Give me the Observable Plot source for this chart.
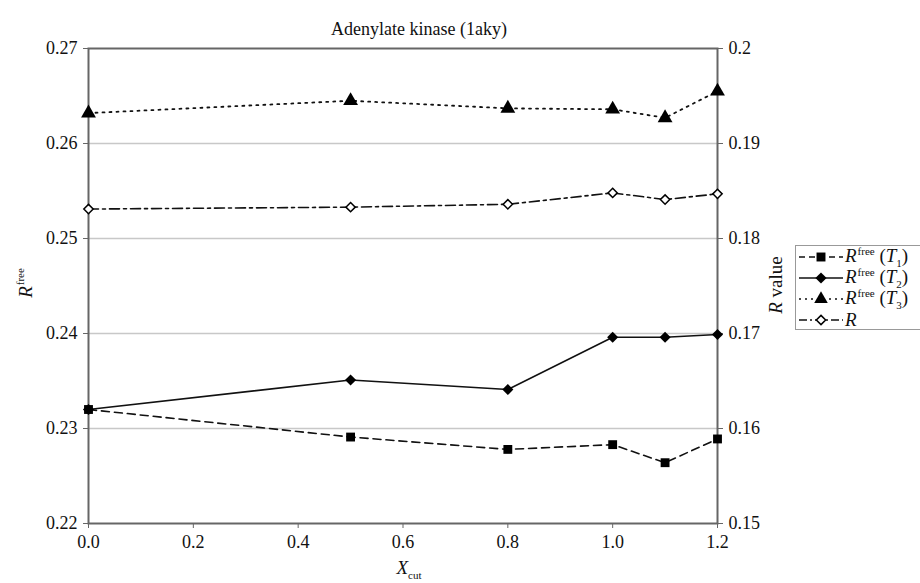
<!DOCTYPE html>
<html><head><meta charset="utf-8">
<script src="https://cdn.jsdelivr.net/npm/d3@7"></script>
<script src="https://cdn.jsdelivr.net/npm/@observablehq/plot@0.6"></script>
<style>
body{margin:0;background:#fff;}
#wrap{position:relative;width:920px;height:583px;font-family:'Liberation Serif','Times New Roman',serif;color:#111;}
#legend{position:absolute;left:795px;top:245px;width:128px;height:85px;border:1px solid #999;box-sizing:border-box;background:#fff;}
.row{height:21px;display:flex;align-items:center;font-size:19px;white-space:nowrap;line-height:21px;}
.row svg{flex:none;margin-left:1px;}
.row i{font-style:italic;}
.sup{font-size:11px;position:relative;top:-7px;margin-left:1px;}
.sub{font-size:11px;position:relative;top:5px;}
</style></head>
<body><div id="wrap"><div id="chart"></div><div id="legend"></div></div>
<script>
const title = "Adenylate kinase (1aky)";
const xcut = [0, 0.5, 0.8, 1.0, 1.1, 1.2];
const rfreeT1 = [0.2320, 0.2291, 0.2278, 0.2283, 0.2264, 0.2289];
const rfreeT2 = [0.2320, 0.2351, 0.2341, 0.2396, 0.2396, 0.2399];
const rfreeT3 = [0.2632, 0.2645, 0.2637, 0.2636, 0.2627, 0.2655];
const rValue = [0.1831, 0.1833, 0.1836, 0.1848, 0.1841, 0.1847];
const leftTicks = [0.22, 0.23, 0.24, 0.25, 0.26, 0.27];
const rightTicks = [0.15, 0.16, 0.17, 0.18, 0.19, 0.2];
const xTicks = [0, 0.2, 0.4, 0.6, 0.8, 1.0, 1.2];
const gridTicks = [0.23, 0.24, 0.25, 0.26];

// right axis (R value, 0.15–0.2) is mapped linearly onto the left axis (0.22–0.27)
const OFFSET = leftTicks[0] - rightTicks[0];

const mk = (ys, shift = 0) => xcut.map((x, i) => ({x, y: ys[i] + shift}));
const t1 = mk(rfreeT1), t2 = mk(rfreeT2), t3 = mk(rfreeT3), rv = mk(rValue, OFFSET);

const ink = "#111";
const font = "'Liberation Serif','Times New Roman',serif";
const svg = Plot.plot({
  width: 920, height: 583,
  marginLeft: 88, marginRight: 203, marginTop: 48, marginBottom: 60,
  style: {fontFamily: font, fontSize: "18px", color: ink, background: "#fff"},
  x: {domain: [0, 1.2]},
  y: {domain: [0.22, 0.27]},
  marks: [
    Plot.ruleY(gridTicks, {stroke: "#c8c8c8", strokeWidth: 1.5}),
    Plot.frame({stroke: "#666", strokeWidth: 2}),
    Plot.axisY({ticks: leftTicks, tickFormat: d => d.toFixed(2), tickSize: 5, tickPadding: 6, label: null, stroke: "#666"}),
    Plot.axisY({anchor: "right", ticks: rightTicks.map(v => v + OFFSET), tickFormat: d => String(+(d - OFFSET).toFixed(2)), tickSize: 5, tickPadding: 6, label: null, stroke: "#666"}),
    Plot.axisX({ticks: xTicks, tickFormat: d => d.toFixed(1), tickSize: 5, tickPadding: 7, label: null, stroke: "#666"}),
    Plot.line(t1, {x: "x", y: "y", stroke: ink, strokeWidth: 1.6, strokeDasharray: "8,5"}),
    Plot.line(t2, {x: "x", y: "y", stroke: ink, strokeWidth: 1.6}),
    Plot.line(t3, {x: "x", y: "y", stroke: ink, strokeWidth: 1.8, strokeDasharray: "2,5"}),
    Plot.line(rv, {x: "x", y: "y", stroke: ink, strokeWidth: 1.6, strokeDasharray: "10,4,3,4"}),
    Plot.dot(t1, {x: "x", y: "y", symbol: "square", r: 5, fill: "#000"}),
    Plot.dot(t2, {x: "x", y: "y", symbol: "diamond2", r: 5, fill: "#000"}),
    Plot.dot(t3, {x: "x", y: "y", symbol: "triangle", r: 5.5, fill: "#000"}),
    Plot.dot(rv, {x: "x", y: "y", symbol: "diamond2", r: 4.2, fill: "#fff", stroke: "#000", strokeWidth: 1.5}),
    Plot.text([title], {text: d => d, frameAnchor: "top", dx: 16, dy: -26, fontSize: 18, fill: ink})
  ]
});
document.getElementById("chart").appendChild(svg);

const s = d3.select(svg);
// left axis label R^free
const l1 = s.append("text").attr("transform", "translate(32,283) rotate(-90)").attr("text-anchor", "middle")
  .attr("font-family", font).attr("font-size", 19).attr("fill", ink);
l1.append("tspan").attr("font-style", "italic").text("R");
l1.append("tspan").attr("font-size", 11).attr("dy", -8).attr("dx", 1).text("free");
// right axis label R value
const l2 = s.append("text").attr("transform", "translate(782,285) rotate(-90)").attr("text-anchor", "middle")
  .attr("font-family", font).attr("font-size", 19).attr("fill", ink);
l2.append("tspan").attr("font-style", "italic").text("R");
l2.append("tspan").text(" value");
// x label X_cut
const l3 = s.append("text").attr("transform", "translate(409,574)").attr("text-anchor", "middle")
  .attr("font-family", font).attr("font-size", 19).attr("fill", ink);
l3.append("tspan").attr("font-style", "italic").text("X");
l3.append("tspan").attr("font-size", 11).attr("dy", 5).text("cut");

// legend
const legendItems = [
  {dash: "6,4", sym: "square", fill: "#000", label: "1"},
  {dash: null, sym: "diamond", fill: "#000", label: "2"},
  {dash: "2,4", sym: "triangle", fill: "#000", label: "3"},
  {dash: "8,3,2,3", sym: "diamond", fill: "#fff", label: null}
];
const lg = d3.select("#legend");
for (const it of legendItems) {
  const row = lg.append("div").attr("class", "row");
  const sw = row.append("svg").attr("width", 48).attr("height", 20);
  sw.append("line").attr("x1", 2).attr("x2", 46).attr("y1", 10).attr("y2", 10)
    .attr("stroke", ink).attr("stroke-width", 1.6).attr("stroke-dasharray", it.dash);
  const sym = it.sym === "square" ? d3.symbolSquare : it.sym === "triangle" ? d3.symbolTriangle : d3.symbolDiamond2;
  sw.append("path").attr("transform", "translate(24,10)")
    .attr("d", d3.symbol(sym, it.fill === "#fff" ? 55 : 80)())
    .attr("fill", it.fill).attr("stroke", "#000").attr("stroke-width", it.fill === "#fff" ? 1.5 : 0);
  const t = row.append("span");
  t.append("i").text("R");
  if (it.label) {
    t.append("span").attr("class", "sup").text("free");
    t.append("span").html(" (<i>T</i>");
    t.append("span").attr("class", "sub").text(it.label);
    t.append("span").text(")");
  }
}
</script></body></html>
